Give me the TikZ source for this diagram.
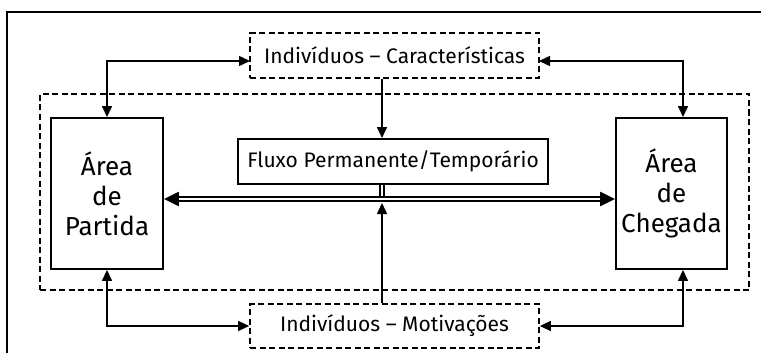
\documentclass[tikz,border=0pt]{standalone}
\usepackage{fontspec}
\setmainfont{Fira Sans}
\usetikzlibrary{arrows.meta}
\begin{document}
\begin{tikzpicture}[x=1pt,y=-1pt,
  solidbox/.style={draw, line width=1.9pt, inner sep=0pt, align=center},
  dashbox/.style={draw, dashed, dash pattern=on 6pt off 3.5pt, line width=1.7pt, inner sep=0pt, align=center},
  arr/.style={line width=1.5pt, -{Triangle[length=11pt,width=10pt]}},
  biarr/.style={line width=1.5pt, {Triangle[length=11pt,width=10pt]}-{Triangle[length=11pt,width=10pt]}},
  dbl/.style={draw, line width=2.4pt, double, double distance=2pt},
  lbl/.style={font=\fontsize{21}{25}\selectfont},
  big/.style={font=\fontsize{26}{30}\selectfont}
]
\useasboundingbox (0,0) rectangle (761,353);
% outer frame (cropped)
\coordinate (fa) at (7,360);
\coordinate (fb) at (7,12);
\coordinate (fc) at (770,12);
\draw[line width=1.9pt] (fa) -- (fb) -- (fc);
% region
\node[dashbox, minimum width=709pt, minimum height=196pt] (region) at (394.5,192) {};
% boxes
\node[dashbox, lbl, minimum width=289pt, minimum height=45pt] (top) at (394.5,55.5) {Indivíduos – Características};
\node[dashbox, lbl, minimum width=289pt, minimum height=44pt] (bot) at (394.5,326) {Indivíduos – Motivações};
\node[solidbox, big, minimum width=112pt, minimum height=151pt] (partida) at (107,193.5) {Área\\de\\Partida};
\node[solidbox, big, minimum width=111pt, minimum height=151pt] (chegada) at (671.5,193.5) {Área\\de\\Chegada};
\node[solidbox, lbl, minimum width=310pt, minimum height=45pt] (fluxo) at (393,161.5) {Fluxo Permanente/Temporário};
% helper coordinates
\coordinate (cx) at (382,199);
\coordinate (cxb) at (382,203);
\coordinate (tl) at (250,61);
\coordinate (tr) at (539,61);
\coordinate (pc) at (107,0);
\coordinate (cc) at (683,0);
% top connectors
\draw[biarr] (tl) -| (pc |- partida.north);
\draw[biarr] (tr) -| (cc |- chegada.north);
% bottom connectors
\draw[biarr] (bot.west) -| (pc |- partida.south);
\draw[biarr] (bot.east) -| (cc |- chegada.south);
% central vertical
\draw[arr] (top.south -| cx) -- (fluxo.north -| cx);
\draw[dbl] (fluxo.south -| cx) -- (cx);
\draw[dbl, {Triangle[length=15pt,width=14pt]}-{Triangle[length=15pt,width=14pt]}] (partida.east |- cx) -- (chegada.west |- cx);
\draw[arr] (bot.north -| cx) -- (cxb);
\end{tikzpicture}
\end{document}
